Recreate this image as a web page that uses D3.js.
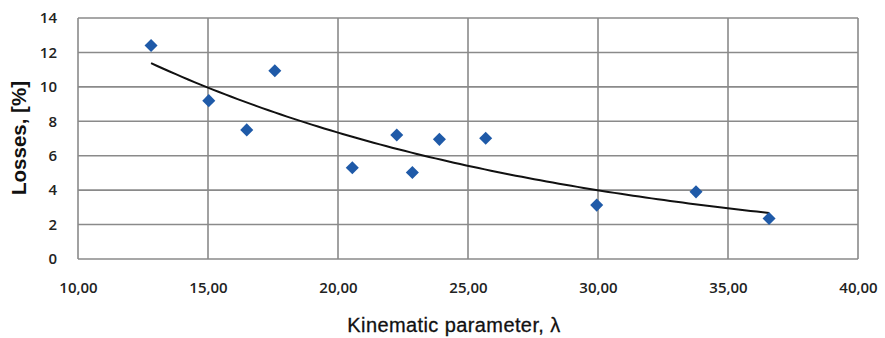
<!DOCTYPE html>
<html><head><meta charset="utf-8">
<script src="https://cdn.jsdelivr.net/npm/d3@7"></script>
<style>body{margin:0;background:#fff}svg{display:block}</style>
</head><body>
<svg id="c" width="885" height="338"></svg>
<script>
const lambdaValues = [12.81, 15.03, 16.49, 17.57, 20.55, 22.26, 22.86, 23.90, 25.68, 29.95, 33.77, 36.58];
const lossValues   = [12.40, 9.20, 7.50, 10.94, 5.30, 7.20, 5.02, 6.95, 7.01, 3.13, 3.90, 2.35];
const xTicks = [10, 15, 20, 25, 30, 35, 40];
const yTicks = [0, 2, 4, 6, 8, 10, 12, 14];
const xLabel = "Kinematic parameter, λ";
const yLabel = "Losses, [%]";

const svg = d3.select("#c");
const m = {l:78, r:858, t:18, b:259};
const x = d3.scaleLinear().domain([10,40]).range([m.l, m.r]);
const y = d3.scaleLinear().domain([0,14]).range([m.b, m.t]);
const grid = "#8a8a8a";
const font = "'Open Sans', sans-serif";
const tfont = "'Liberation Sans', Arial, sans-serif";

// grid
svg.append("g").selectAll("line").data(yTicks).join("line")
  .attr("x1", m.l).attr("x2", m.r).attr("y1", d=>y(d)).attr("y2", d=>y(d))
  .attr("stroke", grid).attr("stroke-width", 1.6);
svg.append("g").selectAll("line").data(xTicks).join("line")
  .attr("y1", m.t).attr("y2", m.b).attr("x1", d=>x(d)).attr("x2", d=>x(d))
  .attr("stroke", grid).attr("stroke-width", 1.6);

// axes (labels only)
const fmt = d => d3.format(".2f")(d).replace(".", ",");
const xa = svg.append("g").attr("transform", `translate(0,${m.b})`)
  .call(d3.axisBottom(x).tickValues(xTicks).tickFormat(fmt).tickSize(0).tickPadding(23));
const ya = svg.append("g").attr("transform", `translate(${m.l},0)`)
  .call(d3.axisLeft(y).tickValues(yTicks).tickSize(0).tickPadding(21));
[xa, ya].forEach(a => {
  a.select(".domain").remove();
  a.selectAll("text").attr("font-family", font).attr("font-size", 15)
    .attr("font-weight", 600).attr("fill", "#222");
});

// exponential trendline (least squares on ln y)
const ly = lossValues.map(Math.log);
const mx = d3.mean(lambdaValues), my = d3.mean(ly);
const b = d3.sum(lambdaValues.map((v,i)=>(v-mx)*(ly[i]-my))) / d3.sum(lambdaValues.map(v=>(v-mx)**2));
const a = Math.exp(my - b*mx);
const xmin = d3.min(lambdaValues), xmax = d3.max(lambdaValues);
const trend = d3.range(0, 101).map(i => { const xv = xmin + (xmax-xmin)*i/100; return [xv, a*Math.exp(b*xv)]; });
svg.append("path").datum(trend)
  .attr("d", d3.line().x(d=>x(d[0])).y(d=>y(d[1])))
  .attr("fill", "none").attr("stroke", "#111").attr("stroke-width", 2);

// markers
svg.append("g").selectAll("path").data(lambdaValues).join("path")
  .attr("transform", (d,i)=>`translate(${x(d)},${y(lossValues[i])}) rotate(45)`)
  .attr("d", d3.symbol().type(d3.symbolSquare).size(85))
  .attr("fill", "#1f5aa8");

// axis titles
svg.append("text").attr("x", 454).attr("y", 332).attr("text-anchor", "middle")
  .attr("font-family", tfont).attr("font-size", 20).attr("letter-spacing", 0.4)
  .attr("fill", "#111").attr("stroke", "#111").attr("stroke-width", 0.3).text(xLabel);
svg.append("text").attr("transform", `translate(26,138) rotate(-90)`).attr("text-anchor", "middle")
  .attr("font-family", tfont).attr("font-size", 20.5).attr("font-weight", 700).attr("fill", "#111").text(yLabel);
</script>
</body></html>
